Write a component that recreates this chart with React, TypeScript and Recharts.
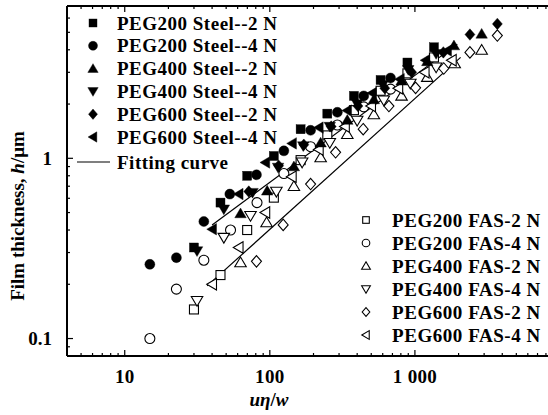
import React from 'react';
import { ScatterChart, Scatter, XAxis, YAxis } from 'recharts';

type Pt = [number, number];

// [uη/w, h (µm)]
const peg200Steel2N: Pt[] = [[30, 0.32], [45.7, 0.568], [69.8, 0.8], [106.6, 1.03], [163, 1.45], [249, 1.77], [380, 2.22], [580, 2.72], [888, 3.4], [1353, 4.13]];
const peg200Steel4N: Pt[] = [[14.9, 0.258], [22.7, 0.281], [35.1, 0.446], [53, 0.633], [80.9, 0.81], [125, 1.1], [191, 1.43], [292, 1.8], [444, 2.22], [679, 2.79]];
const peg400Steel2N: Pt[] = [[62.8, 0.494], [95.9, 0.66], [146.5, 0.9], [224, 1.22], [342, 1.63], [521, 2.12], [809, 2.69], [1217, 3.45], [1858, 4.22], [2884, 4.9]];
const peg400Steel4N: Pt[] = [[31.5, 0.306], [48.2, 0.522], [76, 0.645], [114, 0.89], [170, 1.17], [259, 1.5], [400, 2.0], [600, 2.56], [900, 3.1], [1400, 3.8]];
const peg600Steel2N: Pt[] = [[71.6, 0.654], [115, 0.91], [171.5, 1.19], [265, 1.5], [405, 1.95], [620, 2.45], [950, 3.0], [1570, 3.87], [2394, 4.86], [3700, 5.57]];
const peg600Steel4N: Pt[] = [[40.1, 0.404], [61.1, 0.633], [93.3, 0.948], [142.6, 1.21], [218, 1.48], [342, 1.84], [508, 2.3], [790, 2.75], [1185, 3.5], [1670, 3.96]];

const peg200Fas2N: Pt[] = [[30, 0.145], [45.7, 0.225], [69.8, 0.4], [106.6, 0.605], [163, 0.977], [249, 1.34], [380, 1.85], [580, 2.37], [888, 2.96], [1353, 3.63]];
const peg200Fas4N: Pt[] = [[14.9, 0.1], [22.7, 0.188], [35.1, 0.272], [53.6, 0.4], [81.6, 0.568], [125, 0.823], [191, 1.16], [292, 1.53], [444, 1.93], [679, 2.42]];
const peg400Fas2N: Pt[] = [[62.8, 0.264], [95, 0.44], [146.5, 0.7], [224, 1.01], [342, 1.36], [521, 1.75], [809, 2.22], [1217, 2.82], [1880, 3.36], [2884, 3.99]];
const peg400Fas4N: Pt[] = [[31.5, 0.162], [48.2, 0.363], [73.6, 0.48], [111, 0.654], [167, 0.95], [259, 1.22], [400, 1.62], [610, 2.1], [930, 2.6], [1400, 3.2]];
const peg600Fas2N: Pt[] = [[80.9, 0.268], [123.6, 0.427], [191, 0.72], [284, 1.08], [440, 1.45], [662, 1.95], [1011, 2.46], [1580, 3.15], [2394, 3.87], [3700, 4.8]];
const peg600Fas4N: Pt[] = [[40.1, 0.2], [61.1, 0.32], [93.3, 0.5], [142, 0.79], [218, 1.12], [330, 1.5], [500, 1.95], [770, 2.45], [1170, 3.0], [1800, 3.5]];

const fitSteel: Pt[] = [[40, 0.427], [1960, 4.3]];
const fitFas: Pt[] = [[37, 0.196], [2065, 3.63]];

const xMinorTicks = [5, 6, 7, 8, 9, 20, 30, 40, 50, 60, 70, 80, 90, 200, 300, 400, 500, 600, 700, 800, 900, 2000, 3000, 4000, 5000, 6000, 7000, 8000, 9000];
const xMajorTicks = [10, 100, 1000, 10000];
const xMajorLabels = ['10', '100', '1 000', ''];
const yMinorTicks = [0.08, 0.09, 0.2, 0.3, 0.4, 0.5, 0.6, 0.7, 0.8, 0.9, 2, 3, 4, 5, 6];
const yMajorTicks = [0.1, 1];
const yMajorLabels = ['0.1', '1'];

type Kind = 'square' | 'circle' | 'up' | 'down' | 'diamond' | 'left';

const steelNames = ['PEG200 Steel--2 N', 'PEG200 Steel--4 N', 'PEG400 Steel--2 N', 'PEG400 Steel--4 N', 'PEG600 Steel--2 N', 'PEG600 Steel--4 N'];
const fasNames = ['PEG200 FAS-2 N', 'PEG200 FAS-4 N', 'PEG400 FAS-2 N', 'PEG400 FAS-4 N', 'PEG600 FAS-2 N', 'PEG600 FAS-4 N'];
const kinds: Kind[] = ['square', 'circle', 'up', 'down', 'diamond', 'left'];
const steelSets = [peg200Steel2N, peg200Steel4N, peg400Steel2N, peg400Steel4N, peg600Steel2N, peg600Steel4N];
const fasSets = [peg200Fas2N, peg200Fas4N, peg400Fas2N, peg400Fas4N, peg600Fas2N, peg600Fas4N];

const FONT = '"Liberation Serif", "Times New Roman", serif';

const toData = (pts: Pt[]) => pts.map(([x, h]) => ({ x, h }));

const Marker = ({ kind, filled, cx, cy, s = 5 }: { kind: Kind; filled: boolean; cx: number; cy: number; s?: number }) => {
  const p = { fill: filled ? '#000' : '#fff', stroke: '#000', strokeWidth: filled ? 0.4 : 1.1 };
  switch (kind) {
    case 'square':
      return <rect x={cx - s + 0.5} y={cy - s + 0.5} width={2 * s - 1} height={2 * s - 1} {...p} />;
    case 'circle':
      return <circle cx={cx} cy={cy} r={s} {...p} />;
    case 'up':
      return <polygon points={`${cx},${cy - s * 1.1} ${cx + s * 1.15},${cy + s * 0.85} ${cx - s * 1.15},${cy + s * 0.85}`} {...p} />;
    case 'down':
      return <polygon points={`${cx},${cy + s * 1.1} ${cx + s * 1.15},${cy - s * 0.85} ${cx - s * 1.15},${cy - s * 0.85}`} {...p} />;
    case 'diamond':
      return <polygon points={`${cx},${cy - s * 1.15} ${cx + s},${cy} ${cx},${cy + s * 1.15} ${cx - s},${cy}`} {...p} />;
    case 'left':
      return <polygon points={`${cx - s * 1.1},${cy} ${cx + s * 0.85},${cy - s * 1.15} ${cx + s * 0.85},${cy + s * 1.15}`} {...p} />;
  }
  return null;
};

const BottomTick = (props: any) => {
  const { x, y, payload } = props;
  const i = xMajorTicks.indexOf(payload.value);
  return (
    <g>
      <line x1={x} x2={x} y1={y} y2={y - (i >= 0 ? 6 : 3)} stroke="#000" strokeWidth={1.2} />
      {i >= 0 && (
        <text x={x} y={y + 27} textAnchor="middle" fontFamily={FONT} fontWeight="bold" fontSize={19} letterSpacing={0.3} fill="#000">
          {xMajorLabels[i]}
        </text>
      )}
    </g>
  );
};

const TopTick = (props: any) => {
  const { x, y, payload } = props;
  const major = xMajorTicks.indexOf(payload.value) >= 0;
  return <line x1={x} x2={x} y1={y} y2={y + (major ? 6 : 3)} stroke="#000" strokeWidth={1.2} />;
};

const LeftTick = (props: any) => {
  const { x, y, payload } = props;
  const i = yMajorTicks.indexOf(payload.value);
  return (
    <g>
      <line x1={x} x2={x + (i >= 0 ? 6 : 3)} y1={y} y2={y} stroke="#000" strokeWidth={1.2} />
      {i >= 0 && (
        <text x={x - 15} y={y} dy="0.35em" textAnchor="end" fontFamily={FONT} fontWeight="bold" fontSize={19} fill="#000">
          {yMajorLabels[i]}
        </text>
      )}
    </g>
  );
};

const textStyle = { fontFamily: FONT, fontWeight: 'bold' as const, fontSize: 19, fill: '#000' };

export default function App() {
  return (
    <div style={{ position: 'absolute', left: 0, top: 0, width: 548, height: 415, overflow: 'hidden', background: '#fff' }}>
      <ScatterChart width={566} height={415} margin={{ top: 5, right: 6, bottom: 0, left: 7 }}>
        <XAxis
          xAxisId="b"
          dataKey="x"
          type="number"
          scale="log"
          domain={[4, 10000]}
          ticks={[...xMinorTicks, ...xMajorTicks]}
          interval={0}
          tickSize={0}
          tickMargin={0}
          tickLine={false}
          height={59}
          axisLine={{ stroke: '#000', strokeWidth: 2 }}
          tick={<BottomTick />}
          allowDataOverflow
        />
        <XAxis
          xAxisId="t"
          orientation="top"
          dataKey="x"
          type="number"
          scale="log"
          domain={[4, 10000]}
          ticks={[...xMinorTicks, ...xMajorTicks]}
          interval={0}
          tickSize={0}
          tickMargin={0}
          tickLine={false}
          height={1}
          axisLine={{ stroke: '#000', strokeWidth: 2 }}
          tick={<TopTick />}
          allowDataOverflow
        />
        <YAxis
          dataKey="h"
          type="number"
          scale="log"
          domain={[0.08, 7]}
          ticks={[...yMinorTicks, ...yMajorTicks]}
          interval={0}
          tickSize={0}
          tickMargin={0}
          tickLine={false}
          width={60}
          axisLine={{ stroke: '#000', strokeWidth: 2 }}
          tick={<LeftTick />}
          allowDataOverflow
        />
        <Scatter xAxisId="b" data={toData(fitSteel)} line={{ stroke: '#000', strokeWidth: 1.2 }} shape={() => <g />} isAnimationActive={false} />
        <Scatter xAxisId="b" data={toData(fitFas)} line={{ stroke: '#000', strokeWidth: 1.2 }} shape={() => <g />} isAnimationActive={false} />
        {fasSets.map((pts, i) => (
          <Scatter
            key={fasNames[i]}
            xAxisId="b"
            name={fasNames[i]}
            data={toData(pts)}
            shape={(p: any) => <Marker kind={kinds[i]} filled={false} cx={p.cx} cy={p.cy} />}
            isAnimationActive={false}
          />
        ))}
        {steelSets.map((pts, i) => (
          <Scatter
            key={steelNames[i]}
            xAxisId="b"
            name={steelNames[i]}
            data={toData(pts)}
            shape={(p: any) => <Marker kind={kinds[i]} filled cx={p.cx} cy={p.cy} />}
            isAnimationActive={false}
          />
        ))}
      </ScatterChart>

      <svg width={548} height={415} style={{ position: 'absolute', left: 0, top: 0, pointerEvents: 'none' }}>
        {steelNames.map((n, i) => (
          <g key={n}>
            <Marker kind={kinds[i]} filled cx={93} cy={23 + i * 22.8} s={4.5} />
            <text x={117} y={23 + i * 22.8} dy="0.35em" letterSpacing={0.5} {...textStyle}>{n}</text>
          </g>
        ))}
        <line x1={77} x2={110} y1={162} y2={162} stroke="#000" strokeWidth={1.2} />
        <text x={117} y={162} dy="0.35em" letterSpacing={0.5} {...textStyle}>Fitting curve</text>

        {fasNames.map((n, i) => (
          <g key={n}>
            <Marker kind={kinds[i]} filled={false} cx={366} cy={220 + i * 23} s={3.8} />
            <text x={392} y={220 + i * 23} dy="0.35em" letterSpacing={0.55} {...textStyle}>{n}</text>
          </g>
        ))}

        <text x={269} y={406} textAnchor="middle" {...textStyle}>
          <tspan fontStyle="italic">uη</tspan>/<tspan fontStyle="italic">w</tspan>
        </text>
        <text transform="rotate(-90)" x={-216} y={24} textAnchor="middle" {...textStyle}>
          Film thickness, <tspan fontStyle="italic">h</tspan>/μm
        </text>
      </svg>
    </div>
  );
}
